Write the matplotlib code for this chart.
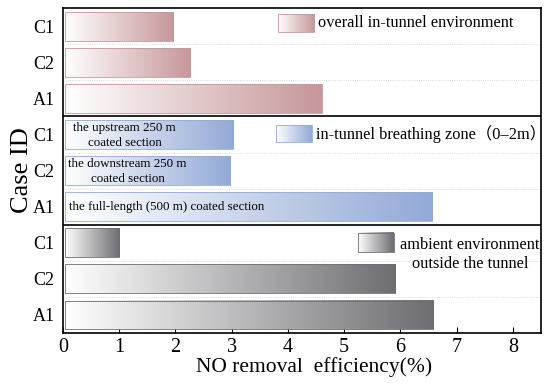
import numpy as np
import matplotlib
matplotlib.use("Agg")
import matplotlib.pyplot as plt
from matplotlib.colors import LinearSegmentedColormap

plt.rcParams['font.family'] = ['Liberation Serif', 'Noto Sans CJK SC', 'DejaVu Serif']

# data
cases = ['C1', 'C2', 'A1']
overall = [1.96, 2.26, 4.60]
breathing = [3.02, 2.97, 6.56]
ambient = [1.00, 5.90, 6.58]
panels = [overall, breathing, ambient]
panel_colors = ['#c6979a', '#93a9d6', '#6e6e72']
panel_labels = ['overall in-tunnel environment',
                'in-tunnel breathing zone（0–2m）',
                'ambient environment\noutside the tunnel']
bar_notes = ['the upstream 250 m\ncoated section',
             'the downstream 250 m\ncoated section',
             'the full-length (500 m) coated section']

fig = plt.figure(figsize=(5.5, 3.85), dpi=100)
ax = fig.add_axes([0.1145, 0.135, 0.869, 0.844])

grad = np.linspace(0, 1, 256).reshape(1, -1)
h = 0.8

def gradient_box(x0, x1, y0, y1, cmap, edge):
    ax.imshow(grad, cmap=cmap, extent=[x0, x1, y1, y0], aspect='auto',
              interpolation='bicubic', zorder=2)
    ax.add_patch(plt.Rectangle((x0, y0), x1 - x0, y1 - y0, fill=False,
                               edgecolor=edge, lw=0.6, zorder=3))

ypos = []
for p, vals in enumerate(panels):
    cmap = LinearSegmentedColormap.from_list('g%d' % p, ['white', panel_colors[p]])
    for i, v in enumerate(vals):
        y = p * 3 + i + 0.5
        ypos.append(y)
        gradient_box(0.03, v, y - h / 2, y + h / 2, cmap, panel_colors[p])
        # dotted separators
        if i < 2:
            ax.axhline(p * 3 + i + 1, color='#cccccc', lw=0.6, ls=':', zorder=1)
    if p < 2:
        ax.axhline(p * 3 + 3, color='black', lw=1.2, zorder=4)

# legend-like keys
cm0 = LinearSegmentedColormap.from_list('k0', ['white', panel_colors[0]])
gradient_box(3.82, 4.47, 0.17, 0.66, cm0, panel_colors[0])
ax.text(4.54, 0.42, panel_labels[0], fontsize=11.8, va='center', ha='left')

cm1 = LinearSegmentedColormap.from_list('k1', ['white', panel_colors[1]])
gradient_box(3.79, 4.43, 3.25, 3.72, cm1, panel_colors[1])
ax.text(4.5, 3.48, panel_labels[1], fontsize=11.8, va='center', ha='left')

cm2 = LinearSegmentedColormap.from_list('k2', ['white', panel_colors[2]])
gradient_box(5.24, 5.88, 6.23, 6.76, cm2, panel_colors[2])
ax.text(7.24, 6.82, panel_labels[2], fontsize=11.8, va='center', ha='center',
        linespacing=1.25)

# notes on breathing-zone bars
ax.text(1.1, 3.52, bar_notes[0], fontsize=9.4, ha='center', va='center', linespacing=1.35)
ax.text(1.15, 4.52, bar_notes[1], fontsize=9.4, ha='center', va='center', linespacing=1.35)
ax.text(0.1, 5.52, bar_notes[2], fontsize=9.4, ha='left', va='center')

ax.set_xlim(0, 8.5)
ax.set_ylim(9, 0)
ax.set_yticks(ypos)
ax.set_yticklabels(cases * 3, fontsize=13)
ax.set_xticks(range(9))
ax.tick_params(axis='x', direction='in', labelsize=14.5, length=4)
ax.tick_params(axis='y', length=0, pad=6)
ax.set_xlabel('NO removal  efficiency(%)', fontsize=15.5, labelpad=0)
ax.xaxis.set_label_coords(0.525, -0.075, transform=ax.transAxes)
ax.xaxis.label.set_va('top')
ax.set_ylabel('Case ID', fontsize=19, labelpad=0)
for s in ax.spines.values():
    s.set_linewidth(1.2)

fig.savefig('out.png', dpi=100)
